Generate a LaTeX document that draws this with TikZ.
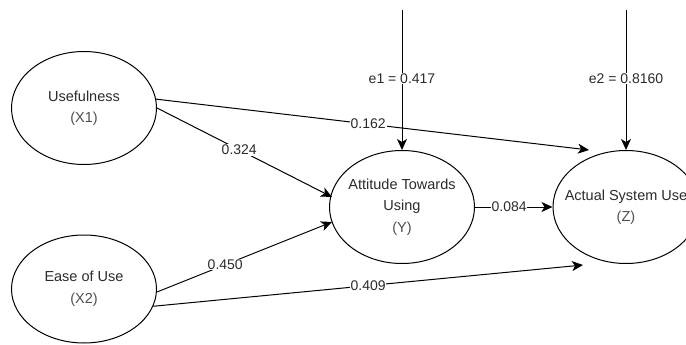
\documentclass[tikz,border=0pt]{standalone}
\usepackage{fontspec}
\setmainfont{Liberation Sans}
\usetikzlibrary{shapes.geometric,arrows.meta,calc}
\definecolor{txt}{HTML}{2B2B2B}
\definecolor{subtxt}{HTML}{505050}
\tikzset{
  construct/.style={ellipse, draw=black, line width=1pt, fill=white,
    minimum width=145pt, minimum height=113pt, inner xsep=-14pt, inner ysep=0pt,
    align=center, text=txt, font=\fontsize{14.5}{21.5}\selectfont},
  path/.style={draw=black, line width=1pt,
    -{Stealth[length=11pt,width=10pt,inset=3pt]}},
  coef/.style={fill=white, inner sep=0.8pt, text=txt,
    font=\fontsize{14}{16}\selectfont}
}
\begin{document}
\begin{tikzpicture}[x=1pt,y=-1pt]
  \useasboundingbox (0,0) rectangle (686,345);

  % latent constructs
  \node[construct] (u) at (84,108) {Usefulness\\\textcolor{subtxt}{(X1)}};
  \node[construct, minimum height=108pt] (e) at (84,289) {Ease of Use\\\textcolor{subtxt}{(X2)}};
  \node[construct] (y) at (402,207) {Attitude Towards\\Using\\\textcolor{subtxt}{(Y)}};
  \node[construct, minimum width=146pt] (z) at (626,207) {Actual System Use\\\textcolor{subtxt}{(Z)}};

  % error terms
  \coordinate (e1) at (402,10);
  \coordinate (e2) at (626,10);
  \draw[path] (e1) -- node[coef, pos=0.49] {e1 = 0.417} (y.north);
  \draw[path] (e2) -- node[coef, pos=0.49] {e2 = 0.8160} (z.north);

  % structural paths
  \draw[path] (u.7) -- node[coef, pos=0.49] {0.162} ($(z.center)+(-37,-57)$);
  \draw[path] (u.east) -- node[coef, pos=0.47] {0.324} ($(y.center)+(-70,-10)$);
  \draw[path] ($(e.center)+(73,3)$) -- node[coef, pos=0.39] {0.450} ($(y.center)+(-70,15)$);
  \draw[path] (e.-14) -- node[coef, pos=0.5] {0.409} ($(z.center)+(-43,58)$);
  \draw[path] (y.east) -- node[coef, pos=0.44] {0.084} (z.west);
\end{tikzpicture}
\end{document}
